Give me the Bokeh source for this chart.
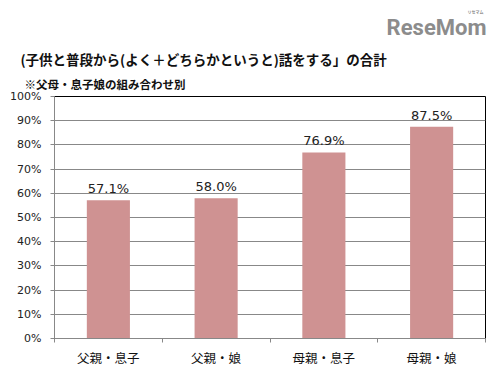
from bokeh.plotting import figure
from bokeh.models import (ColumnDataSource, Title, FixedTicker, CustomJSTickFormatter,
                          LinearAxis)
from bokeh.embed import file_html
from bokeh.resources import INLINE

categories = ["父親・息子", "父親・娘", "母親・息子", "母親・娘"]
values = [57.1, 58.0, 76.9, 87.5]
labels = ["57.1%", "58.0%", "76.9%", "87.5%"]
y_ticks = [0, 10, 20, 30, 40, 50, 60, 70, 80, 90, 100]

title_text = "(子供と普段から(よく＋どちらかというと)話をする」の合計"
subtitle_text = "※父母・息子娘の組み合わせ別"
logo_text = "ReseMom"
logo_sub = "リセマム"

FONT = "Noto Sans CJK JP"
NUM_FONT = "DejaVu Sans"

src = ColumnDataSource(data=dict(cat=categories, val=values, lab=labels))

p = figure(x_range=categories, y_range=(0, 100), width=500, height=385,
           output_backend="svg", toolbar_location=None, x_axis_location=None,
           min_border_left=54, min_border_right=15, min_border_top=96, min_border_bottom=47)
p.outline_line_color = "black"
p.outline_line_width = 1

p.vbar(x="cat", top="val", width=0.4, source=src, color="#CF9292", line_color=None)
p.text(x="cat", y="val", text="lab", source=src, text_align="center", text_baseline="bottom",
       y_offset=-4, text_font_size="13px", text_color="#222222",
       text_font={"value": NUM_FONT})

# y axis
p.yaxis.ticker = FixedTicker(ticks=y_ticks)
p.yaxis.formatter = CustomJSTickFormatter(code="return tick + '%';")
p.yaxis.major_label_text_font = NUM_FONT
p.yaxis.major_label_text_font_size = "11px"
p.yaxis.major_label_text_color = "#222222"
p.yaxis.major_tick_in = 0
p.yaxis.major_tick_out = 4
p.yaxis.minor_tick_line_color = None
p.yaxis.axis_line_color = "#888888"
p.yaxis.major_tick_line_color = "#888888"
p.yaxis.major_label_standoff = 9

# x axis: labels at category centres, tick marks at category boundaries
n = len(categories)
xaxis = LinearAxis(
    ticker=FixedTicker(ticks=[i + 0.5 for i in range(n)], minor_ticks=list(range(n + 1))),
    formatter=CustomJSTickFormatter(args=dict(cats=categories),
                                    code="return cats[Math.floor(tick)];"),
)
xaxis.major_label_text_font = FONT
xaxis.major_label_text_font_size = "12.5px"
xaxis.major_label_text_color = "#111111"
xaxis.major_tick_line_color = None
xaxis.minor_tick_line_color = "#888888"
xaxis.minor_tick_in = 0
xaxis.minor_tick_out = 4
xaxis.axis_line_color = "#888888"
xaxis.major_label_standoff = 3
p.add_layout(xaxis, "below")

p.xgrid.grid_line_color = None
p.ygrid.grid_line_color = "#888888"
p.ygrid.grid_line_width = 1

p.add_layout(Title(text=subtitle_text, align="left", offset=-30, standoff=10,
                   text_font=FONT, text_font_size="11.5px", text_font_style="bold",
                   text_color="#111111"), "above")
p.add_layout(Title(text=title_text, align="left", offset=-34, standoff=0,
                   text_font=FONT, text_font_size="13.5px", text_font_style="bold",
                   text_color="#111111"), "above")
p.add_layout(Title(text=logo_text, align="right", offset=-1, standoff=14,
                   text_font="Roboto", text_font_size="22px", text_font_style="bold",
                   text_color="#8c8c8c"), "above")
p.add_layout(Title(text=logo_sub, align="right", offset=2, standoff=-19,
                   text_font=FONT, text_font_size="4px",
                   text_color="#8c8c8c"), "above")

open("out.html", "w").write(file_html(p, INLINE))
